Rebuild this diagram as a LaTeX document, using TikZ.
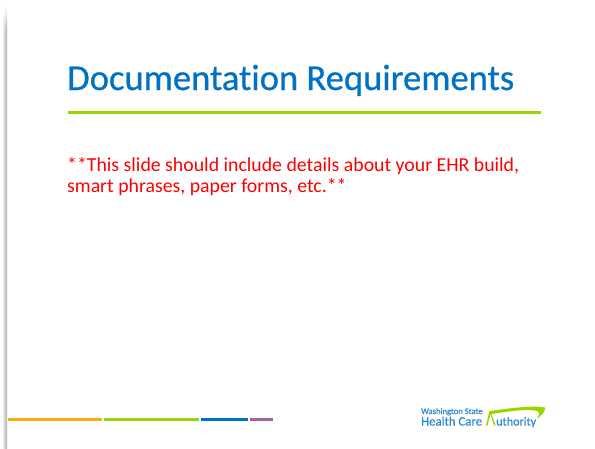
\documentclass[tikz,border=0pt]{standalone}
\usepackage{fontspec}
\setmainfont{Carlito}[Ligatures=NoCommon]
\newfontfamily\titlefont{Carlito}[Ligatures=NoCommon,FakeBold=0.6]
\newfontfamily\logofont{Carlito}[Ligatures=NoCommon,FakeBold=0.15]
\usetikzlibrary{shadings,fadings}
\definecolor{hcablue}{RGB}{0,114,198}
\definecolor{hcagreen}{RGB}{150,215,0}
\definecolor{hcaorange}{RGB}{255,170,10}
\definecolor{hcapurple}{RGB}{160,100,165}
\definecolor{hcared}{RGB}{255,0,0}
\tikzfading[name=topfade,top color=transparent!100,bottom color=transparent!0]
\tikzset{
  titletext/.style={anchor=base west,inner sep=0pt,text=hcablue,font=\titlefont\fontsize{36.6}{38}\selectfont},
  bodytext/.style={anchor=base west,inner sep=0pt,text=hcared,font=\fontsize{19.8}{22}\selectfont},
  logotext/.style={anchor=base west,inner sep=0pt,text=hcablue!85},
  barline/.style={line width=3pt}
}
\begin{document}
\begin{tikzpicture}[x=1pt,y=-1pt]
\useasboundingbox (0,0) rectangle (595,448);
\fill[white] (0,0) rectangle (595,448);
\shade[left color=white,right color=black!35,path fading=topfade] (2,6) rectangle (7,30);
\shade[left color=white,right color=black!35] (2,30) rectangle (7,448);
\node[titletext] (title) at (67,90) {Documentation Requirements};
\draw[hcagreen,line width=2.2pt] (68,112.5) -- (541,112.5);
\node[bodytext] (l1) at (67,171.5) {**This slide should include details about your EHR build,};
\node[bodytext] (l2) at (67,192.5) {smart phrases, paper forms, etc.**};
\draw[barline,hcaorange] (8,419) -- (102,419);
\draw[barline,hcagreen] (104,419) -- (199,419);
\draw[barline,hcablue] (201,419) -- (248,419);
\draw[barline,hcapurple] (250,419) -- (273,419);
\node[logotext,font=\logofont\fontsize{8.6}{9}\selectfont] (w) at (421,414) {Washington State};
\node[logotext,font=\logofont\fontsize{12.8}{13}\selectfont] (h) at (421,425.5) {Health Care};
\node[logotext,font=\logofont\fontsize{12.2}{13}\selectfont] (a) at (496,425.5) {uthority};
\fill[hcagreen] (486,425.5) -- (489.5,411) .. controls (505,409) and (530,405) .. (545,407.5) .. controls (545.5,412) and (541,416) .. (537,418.5) .. controls (540,414) and (540,411) .. (535,410.5) .. controls (522,409) and (505,412) .. (491.5,414) -- (495.5,425.5) -- (494,425.5) -- (490.5,414) -- (487.5,425.5) -- cycle;
\end{tikzpicture}
\end{document}
